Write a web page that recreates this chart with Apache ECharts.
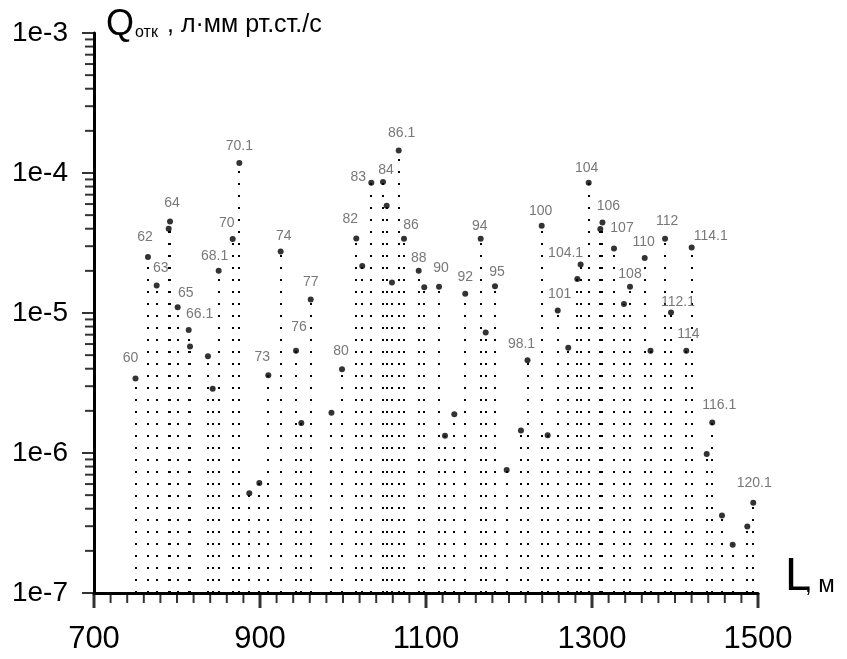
<!DOCTYPE html>
<html>
<head>
<meta charset="utf-8">
<script src="https://cdn.jsdelivr.net/npm/echarts@6/dist/echarts.min.js"></script>
<style>html,body{margin:0;background:#fff}#chart{width:847px;height:659px}</style>
</head>
<body>
<div id="chart"></div>
<script>
// L, м
var posL = [750, 765, 775.5, 790, 791.6, 800.8, 814.1, 815.7, 837.3, 843, 850.2, 867.1, 875.1, 887.1, 899.2, 910,
  924.9, 943.4, 949.8, 961.1, 986.1, 998.8, 1016, 1023.2, 1034.1, 1048.2, 1052.6, 1059, 1067.1, 1073.5, 1091.2,
  1097.9, 1115.7, 1122.9, 1134.1, 1147.3, 1165.9, 1171.9, 1183.1, 1197.2, 1214.4, 1222.3, 1239.4, 1246.6, 1258.7,
  1271.4, 1282.3, 1286.3, 1296, 1310, 1312.6, 1326.5, 1338.5, 1345.8, 1363.5, 1370.5, 1388, 1395.2, 1413.6, 1420.1,
  1438.2, 1444.9, 1456.6, 1469.5, 1487.1, 1494.3];
// Q отк, л·мм рт.ст./с
var qOtk = [3.4e-6, 2.51e-5, 1.57e-5, 4.0e-5, 4.51e-5, 1.10e-5, 7.57e-6, 5.77e-6, 4.91e-6, 2.88e-6, 2.0e-5, 3.38e-5,
  1.18e-4, 5.15e-7, 6.1e-7, 3.59e-6, 2.75e-5, 5.38e-6, 1.64e-6, 1.25e-5, 1.94e-6, 3.97e-6, 3.41e-5, 2.17e-5, 8.53e-5,
  8.63e-5, 5.84e-5, 1.65e-5, 1.45e-4, 3.39e-5, 2.0e-5, 1.53e-5, 1.54e-5, 1.33e-6, 1.89e-6, 1.37e-5, 3.39e-5, 7.27e-6,
  1.55e-5, 7.56e-7, 1.45e-6, 4.6e-6, 4.2e-5, 1.34e-6, 1.04e-5, 5.65e-6, 1.75e-5, 2.22e-5, 8.53e-5, 3.98e-5, 4.43e-5,
  2.89e-5, 1.16e-5, 1.54e-5, 2.47e-5, 5.38e-6, 3.39e-5, 1.01e-5, 5.38e-6, 2.94e-5, 9.84e-7, 1.65e-6, 3.58e-7, 2.21e-7,
  2.99e-7, 4.42e-7];
// номера точек
var pointNames = ['60','62','63','','64','65','66.1','','','','68.1','70','70.1','','','73','74','76','','77','','80',
  '82','','83','84','','','86.1','86','88','','90','','','92','94','','95','','','98.1','100','','101','','','104.1',
  '104','','106','107','','108','110','','112','112.1','114','114.1','','116.1','','','','120.1'];
var xTicks = [700, 900, 1100, 1300, 1500];
var xMinorStep = 20;
var yDecades = [-7, -6, -5, -4, -3];
var minorMant = [2, 3, 4, 5, 6, 7, 8, 9];

// сдвиг подписей относительно точки
var labelShift = {
  '60':[-5,-20],'62':[-3,-20],'63':[4,-17],'64':[2,-18],'65':[8,-14],'66.1':[11,-16],'68.1':[-4,-15],'70':[-6,-16],
  '70.1':[0,-17],'73':[-6,-18],'74':[3,-15],'76':[3,-24],'77':[0,-17],'80':[-1,-18],'82':[-6,-19],'83':[-13,-6],
  '84':[3,-12],'86.1':[3,-17],'86':[7,-14],'88':[0,-13],'90':[2,-19],'92':[0,-17],'94':[-1,-13],'95':[2,-14],
  '98.1':[-6,-16],'100':[-1,-15],'101':[2,-16],'104.1':[-15,-11],'104':[-2,-15],'106':[6,-16],'107':[8,-20],
  '108':[0,-13],'110':[-1,-16],'112':[2,-18],'112.1':[7,-10],'114':[2,-17],'114.1':[19,-11],'116.1':[7,-17],
  '120.1':[1,-20]
};

var FONT = '"Liberation Sans", Arial, sans-serif';
var xMin = xTicks[0], xMax = xTicks[xTicks.length - 1];
var yMin = Math.pow(10, yDecades[0]);
var yMax = Math.pow(10, yDecades[yDecades.length - 1]);

var points = posL.map(function (x, i) {
  var nm = pointNames[i];
  return {
    value: [x, qOtk[i]],
    name: nm,
    label: { show: nm !== '', offset: labelShift[nm] || [0, -16] }
  };
});
var stems = posL.map(function (x, i) { return [x, qOtk[i]]; });

// деления оси Y: декады и 2..9 внутри каждой
var yMajorPts = yDecades.map(function (e) { return [xMin, Math.pow(10, e)]; });
var yMinorPts = [];
yDecades.slice(0, -1).forEach(function (e) {
  minorMant.forEach(function (m) { yMinorPts.push([xMin, m * Math.pow(10, e)]); });
});
// деления оси X
var xMajorPts = xTicks.map(function (v) { return [v, yMin]; });
var xMinorPts = [];
for (var v = xMin + xMinorStep; v < xMax; v += xMinorStep) {
  if (xTicks.indexOf(v) < 0) xMinorPts.push([v, yMin]);
}

function tickSeries(data, size, offset) {
  return {
    type: 'scatter', silent: true, clip: false, z: 5,
    data: data, symbol: 'rect', symbolSize: size, symbolOffset: offset,
    itemStyle: { color: '#000' }
  };
}

var myChart = echarts.init(document.getElementById('chart'));
myChart.setOption({
  animation: false,
  grid: { left: 94, right: 89, top: 33, bottom: 66 },
  xAxis: {
    type: 'value', min: xMin, max: xMax, interval: 200,
    axisLine: { lineStyle: { color: '#000', width: 3 } },
    axisTick: { show: false },
    splitLine: { show: false },
    axisLabel: {
      color: '#000', fontSize: 31, fontFamily: FONT, margin: 31,
      formatter: function (v) { return String(v); }
    }
  },
  yAxis: {
    type: 'log', logBase: 10, min: yMin, max: yMax, splitNumber: 4,
    axisLine: { lineStyle: { color: '#000', width: 3 } },
    axisTick: { show: false },
    splitLine: { show: false },
    axisLabel: {
      color: '#000', fontSize: 28, fontFamily: FONT, margin: 26,
      formatter: function (v) { return '1e' + Math.round(Math.log10(v)); }
    }
  },
  series: [
    {
      // пунктирные линии к оси
      type: 'custom',
      silent: true,
      data: stems,
      renderItem: function (params, api) {
        var top = api.coord([api.value(0), api.value(1)]);
        var bot = api.coord([api.value(0), yMin]);
        var x = Math.round(top[0]);
        return {
          type: 'line',
          shape: { x1: x, y1: bot[1], x2: x, y2: top[1] },
          style: { stroke: '#000', lineWidth: 2, lineDash: [2, 10] }
        };
      }
    },
    tickSeries(yMajorPts, [12, 2], [-6, 0]),
    tickSeries(yMinorPts, [9, 2], [-4.5, 0]),
    tickSeries(xMajorPts, [3, 15], [0, 7.5]),
    tickSeries(xMinorPts, [2, 10], [0, 5]),
    {
      type: 'scatter',
      data: points,
      symbol: 'circle',
      symbolSize: 6,
      itemStyle: { color: '#000' },
      label: {
        position: 'inside',
        formatter: '{b}',
        color: '#555',
        fontSize: 14,
        fontFamily: FONT
      }
    }
  ],
  graphic: [
    { type: 'text', x: 106, y: 25, style: { text: 'Q', font: '36px ' + FONT, fill: '#000', verticalAlign: 'middle' } },
    { type: 'text', x: 135, y: 33, style: { text: 'отк', font: '16px ' + FONT, fill: '#000', verticalAlign: 'middle' } },
    { type: 'text', x: 167, y: 25, style: { text: ', л·мм рт.ст./с', font: '25px ' + FONT, fill: '#000', verticalAlign: 'middle' } },
    { type: 'text', x: 785, y: 577, style: { text: 'L', font: '47px ' + FONT, fill: '#000', verticalAlign: 'middle' } },
    { type: 'text', x: 805, y: 585, style: { text: ', м', font: '24px ' + FONT, fill: '#000', verticalAlign: 'middle' } }
  ]
});
</script>
</body>
</html>
